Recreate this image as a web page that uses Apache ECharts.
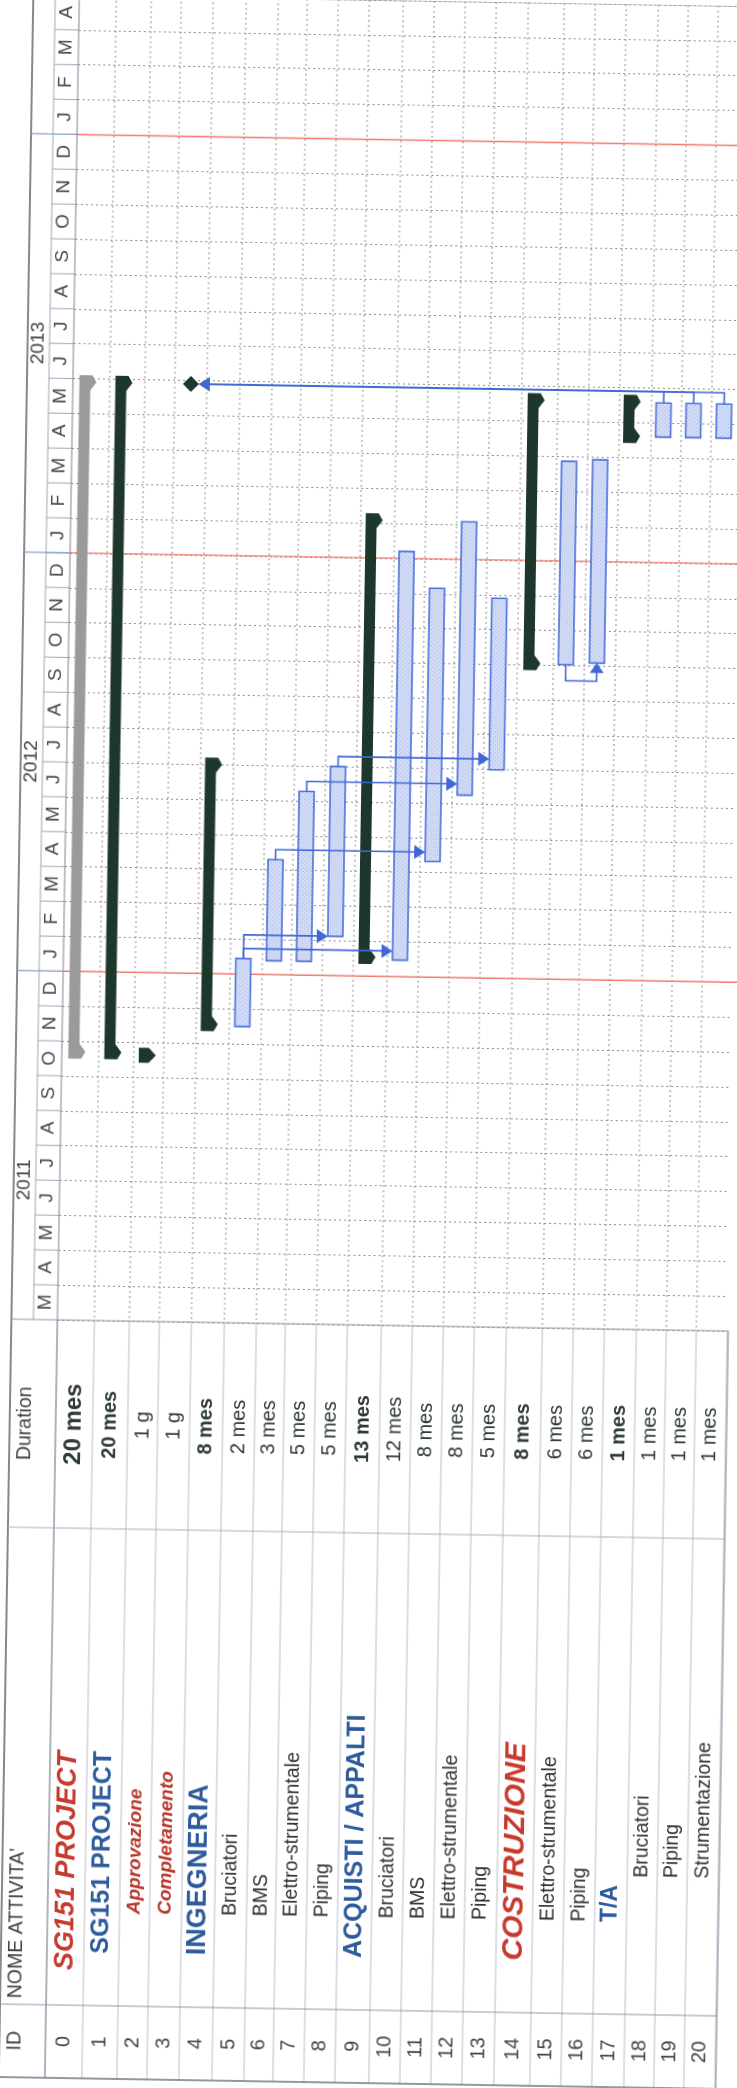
<!DOCTYPE html>
<html>
<head>
<meta charset="utf-8">
<title>SG151 PROJECT – Gantt</title>
<script src="https://cdn.jsdelivr.net/npm/echarts@6/dist/echarts.min.js"></script>
<style>
  html, body { margin: 0; padding: 0; background: #fff; overflow: hidden; }
  #chart { width: 737px; height: 2088px; transform: rotate(0.95deg); }
</style>
</head>
<body>
<div id="chart"></div>
<script>
// ---------------- data ----------------
const taskIds = ['0','1','2','3','4','5','6','7','8','9','10','11','12','13','14','15','16','17','18','19','20'];
const taskNames = ['SG151 PROJECT','SG151 PROJECT','Approvazione','Completamento','INGEGNERIA','Bruciatori','BMS',
  'Elettro-strumentale','Piping','ACQUISTI / APPALTI','Bruciatori','BMS','Elettro-strumentale','Piping',
  'COSTRUZIONE','Elettro-strumentale','Piping','T/A','Bruciatori','Piping','Strumentazione'];
const taskDurations = ['20 mes','20 mes','1 g','1 g','8 mes','2 mes','3 mes','5 mes','5 mes','13 mes','12 mes',
  '8 mes','8 mes','5 mes','8 mes','6 mes','6 mes','1 mes','1 mes','1 mes','1 mes'];
const taskKinds = ['project','summary','summaryDay','milestone','summary','task','task','task','task','summary',
  'task','task','task','task','summary','task','task','summary','task','task','task'];
const outlineLevel = [0,1,2,2,1,2,2,2,2,1,2,2,2,2,1,2,2,2,3,3,3];
// start / finish in months counted from 1 March 2011
const taskStart = [7.5, 7.5, 7.5, 26.9, 8.35, 8.5, 10.4, 10.4, 11.13, 10.35, 10.48, 13.32, 15.24, 15.98,
  18.86, 19.03, 19.09, 25.42, 25.6, 25.6, 25.6];
const taskEnd = [27.1, 27.1, 7.55, 26.9, 16.2, 10.45, 13.3, 15.27, 16.0, 23.28, 22.2, 21.16, 23.08, 20.9,
  26.8, 24.86, 24.92, 26.8, 26.58, 26.58, 26.58];
// dependencies
const linkFrom = [5, 5, 6, 7, 8, 15, 18, 19, 20];
const linkTo   = [8, 10, 11, 12, 13, 16, 3, 3, 3];
const linkType = ['FS','FS','FS','FS','FS','SS','FS','FS','FS'];
// timescale: March 2011 .. April 2014
const monthLetters = ['M','A','M','J','J','A','S','O','N','D',
  'J','F','M','A','M','J','J','A','S','O','N','D',
  'J','F','M','A','M','J','J','A','S','O','N','D',
  'J','F','M','A'];
const yearLabels = ['2011','2012','2013'];
const yearMid = [4, 16, 28];
const yearStart = [10, 22, 34];

// ---------------- layout ----------------
const rowWeights = [37,35,30,32,33,32,29,31,31,34,31,31,31,32,36,31,31,32,30,30,31];
const rowEdge = [0];
rowWeights.forEach(w => rowEdge.push(rowEdge[rowEdge.length - 1] + w));
const FRAME_X = 16, YEAR_X = 38, CHART_X = 62, RIGHT_X = 733;
const CHART_H = 1325;
const DUR_BOTTOM = 1533, NAME_BOTTOM = 2010, TABLE_BOTTOM = 2083;
const DUR_CENTER = (CHART_H + DUR_BOTTOM) / 2;
const ID_CENTER = (NAME_BOTTOM + TABLE_BOTTOM) / 2;
const NAME_START = [1975, 1958, 1918, 1873];
const HEAD_X = 32;
const FONT = '"Liberation Sans", Arial, Helvetica, sans-serif';
const ROT = Math.PI / 2;

const C_SUM = '#1d372c', C_PROJ = '#9a9a9a', C_LINK = '#3f67d6', C_BAR = '#4c70db';
const C_BLUE_TXT = '#2d5b9b', C_RED_TXT = '#c73a2e', C_TXT = '#333';

function nameLook(r) {
  const looks = {
    0: { font: 'italic bold 27px ' + FONT, fill: C_RED_TXT },
    1: { font: 'bold 25px ' + FONT, fill: C_BLUE_TXT },
    2: { font: 'italic bold 19px ' + FONT, fill: '#b7372c' },
    3: { font: 'italic bold 19px ' + FONT, fill: '#b7372c' },
    4: { font: 'bold 27px ' + FONT, fill: C_BLUE_TXT },
    9: { font: 'bold 25px ' + FONT, fill: C_BLUE_TXT },
    14: { font: 'italic bold 30px ' + FONT, fill: C_RED_TXT },
    17: { font: 'bold 23px ' + FONT, fill: C_BLUE_TXT }
  };
  return looks[r] || { font: '19.5px ' + FONT, fill: C_TXT };
}
function durFont(r) {
  if (r === 0) return 'bold 24px ' + FONT;
  return (taskKinds[r] === 'summary' ? 'bold 20px ' : '20px ') + FONT;
}

// hatched fill for task bars
const pat = document.createElement('canvas');
pat.width = 4; pat.height = 4;
(function () {
  const g = pat.getContext('2d');
  g.fillStyle = '#d2dbf6'; g.fillRect(0, 0, 4, 4);
  g.fillStyle = '#a8b8ea'; g.fillRect(0, 0, 1, 1); g.fillRect(2, 2, 1, 1);
})();

// ---------------- helpers ----------------
function rowBounds(api, r) {
  const x0 = api.coord([rowEdge[r], 0])[0];
  const x1 = api.coord([rowEdge[r + 1], 0])[0];
  return { x0, x1, cx: (x0 + x1) / 2 };
}
function ty(api, t) { return api.coord([0, t])[1]; }
function vtext(x, y, text, font, fill, align) {
  return { type: 'text', x, y, rotation: ROT,
    style: { text, font, fill, textAlign: align || 'center', textVerticalAlign: 'middle' } };
}
function line(x1, y1, x2, y2, stroke, width, dash) {
  return { type: 'line', shape: { x1, y1, x2, y2 },
    style: { stroke, lineWidth: width || 1, lineDash: dash || null } };
}
function custom(name, data, renderItem, z) {
  return { type: 'custom', name, data, renderItem, clip: false, silent: true, z: z || 2 };
}
const rowIdx = taskIds.map((_, i) => [i]);

// ---------------- series ----------------
// row separators: dotted in the time area, solid in the table
const rowLines = custom('rows', rowEdge.map((_, i) => [i]), (p, api) => {
  const i = api.value(0);
  const x = api.coord([rowEdge[i], 0])[0];
  const top = ty(api, 38), bot = ty(api, 0);
  const ch = [line(x, bot, x, TABLE_BOTTOM, '#b9bec8', 1)];
  if (i > 0 && i < rowEdge.length - 1) ch.push(line(x, top, x, bot, '#8d8d8d', 1, [2, 3]));
  return { type: 'group', children: ch };
}, 1);

// frame and table column lines
const frame = custom('frame', [[0]], (p, api) => {
  const bot = ty(api, 0), top = ty(api, 38);
  return { type: 'group', children: [
    line(FRAME_X, top - 10, FRAME_X, TABLE_BOTTOM, '#5c6168', 1.5),
    line(YEAR_X, top - 10, YEAR_X, bot, '#9ca7b6', 1),
    line(CHART_X, top - 10, CHART_X, TABLE_BOTTOM, '#8f98a6', 1.2),
    line(RIGHT_X, bot, RIGHT_X, TABLE_BOTTOM, '#8f98a6', 1.2),
    line(FRAME_X, bot, RIGHT_X, bot, '#8f98a6', 1.2),
    line(FRAME_X, DUR_BOTTOM, RIGHT_X, DUR_BOTTOM, '#aab1bc', 1),
    line(FRAME_X, NAME_BOTTOM, RIGHT_X, NAME_BOTTOM, '#8f98a6', 1),
    line(FRAME_X, TABLE_BOTTOM, RIGHT_X, TABLE_BOTTOM, '#6f7680', 1.5),
    line(FRAME_X, top, RIGHT_X + 10, top, '#8f98a6', 1)
  ] };
}, 1);

// month letters of the timescale
const monthCells = custom('months', monthLetters.map((_, i) => [i]), (p, api) => {
  const i = api.value(0);
  const yB = ty(api, i), yT = ty(api, i + 1);
  return { type: 'group', children: [
    line(YEAR_X, yT, CHART_X, yT, '#9ca7b6', 1),
    vtext((YEAR_X + CHART_X) / 2, (yB + yT) / 2, monthLetters[i], '19px ' + FONT, '#4a4a4a')
  ] };
}, 3);

// years of the timescale and the first-of-year markers
const yearCells = custom('years', yearLabels.map((_, i) => [i]), (p, api) => {
  const i = api.value(0);
  const yb = ty(api, yearStart[i]);
  return { type: 'group', children: [
    line(FRAME_X, yb, CHART_X, yb, '#8aa0cc', 1.2),
    line(CHART_X, yb, RIGHT_X + 10, yb, '#f27a6c', 1.4),
    vtext((FRAME_X + YEAR_X) / 2, ty(api, yearMid[i]), yearLabels[i], '19px ' + FONT, '#444')
  ] };
}, 3);

// table: ID, task name, duration
const tableHead = custom('head', [[0]], () => ({ type: 'group', children: [
  vtext(HEAD_X, ID_CENTER, 'ID', '19.5px ' + FONT, '#444'),
  vtext(HEAD_X, NAME_BOTTOM - 6, "NOME ATTIVITA'", '19.5px ' + FONT, '#444', 'left'),
  vtext(HEAD_X, DUR_CENTER, 'Duration', '19.5px ' + FONT, '#444')
] }), 3);

const tableRows = custom('table', rowIdx, (p, api) => {
  const r = api.value(0);
  const b = rowBounds(api, r);
  const look = nameLook(r);
  return { type: 'group', children: [
    vtext(b.cx, ID_CENTER, taskIds[r], '20px ' + FONT, '#444'),
    vtext(b.cx, NAME_START[outlineLevel[r]], taskNames[r], look.font, look.fill, 'left'),
    vtext(b.cx, DUR_CENTER, taskDurations[r], durFont(r), '#2f3b37')
  ] };
}, 3);

// task bars
const taskRows = rowIdx.filter(d => taskKinds[d[0]] === 'task').map(d => [d[0], taskStart[d[0]], taskEnd[d[0]]]);
const taskBars = custom('tasks', taskRows, (p, api) => {
  const r = api.value(0);
  const b = rowBounds(api, r);
  const yS = ty(api, api.value(1)), yE = ty(api, api.value(2));
  return { type: 'rect', shape: { x: b.cx - 10.5, y: yE, width: 15, height: yS - yE },
    style: { fill: { image: pat, repeat: 'repeat' }, stroke: C_BAR, lineWidth: 1.6 } };
}, 5);

// summary bars with end caps
const sumRows = rowIdx.filter(d => ['summary', 'project'].includes(taskKinds[d[0]]))
  .map(d => [d[0], taskStart[d[0]], taskEnd[d[0]]]);
const summaryBars = custom('summaries', sumRows, (p, api) => {
  const r = api.value(0);
  const b = rowBounds(api, r);
  const yB = ty(api, api.value(1)), yT = ty(api, api.value(2));
  const L = b.cx - 12, R = b.cx - 1, P = b.cx + 5;
  const pts = [[L, yT], [R + 2, yT], [P, yT + 7], [R, yT + 15], [R, yB - 15], [P, yB - 7], [R + 2, yB], [L, yB]];
  return { type: 'polygon', shape: { points: pts },
    style: { fill: taskKinds[r] === 'project' ? C_PROJ : C_SUM } };
}, 5);

// one-day summary
const dayRows = rowIdx.filter(d => taskKinds[d[0]] === 'summaryDay').map(d => [d[0], taskStart[d[0]], taskEnd[d[0]]]);
const dayMarks = custom('days', dayRows, (p, api) => {
  const r = api.value(0);
  const b = rowBounds(api, r);
  const yB = ty(api, api.value(1)) + 3, yT = yB - 15;
  const pts = [[b.cx - 10, yB], [b.cx - 10, yT], [b.cx, yT], [b.cx + 7, (yT + yB) / 2], [b.cx, yB]];
  return { type: 'polygon', shape: { points: pts }, style: { fill: C_SUM } };
}, 5);

// milestones
const msRows = rowIdx.filter(d => taskKinds[d[0]] === 'milestone').map(d => [d[0], taskEnd[d[0]]]);
const milestones = custom('milestones', msRows, (p, api) => {
  const r = api.value(0);
  const b = rowBounds(api, r);
  const y = ty(api, api.value(1));
  const s = 8;
  return { type: 'polygon', shape: { points: [[b.cx, y - s], [b.cx + s, y], [b.cx, y + s], [b.cx - s, y]] },
    style: { fill: C_SUM } };
}, 5);

// dependency links
const links = custom('links', linkFrom.map((f, i) => [f, linkTo[i]]), (p, api) => {
  const f = api.value(0), t = api.value(1);
  const type = linkType[p.dataIndex];
  const bf = rowBounds(api, f), bt = rowBounds(api, t);
  const cf = bf.cx - 3, ct = bt.cx - 3;
  const stroke = { stroke: C_LINK, lineWidth: 1.6, fill: null };
  const ch = [];
  if (type === 'SS') {
    const yF = ty(api, taskStart[f]), yT = ty(api, taskStart[t]);
    const yL = Math.max(yF, yT) + 16;
    ch.push({ type: 'polyline', shape: { points: [[cf, yF], [cf, yL], [ct, yL], [ct, yT + 9]] }, style: stroke });
    ch.push({ type: 'polygon', shape: { points: [[ct, yT], [ct - 7, yT + 10], [ct + 7, yT + 10]] }, style: { fill: C_LINK } });
  } else {
    const yE = ty(api, taskEnd[f]);
    const yS = ty(api, taskStart[t]);
    const yA = Math.min(yS, yE - 10);
    if (t > f) {
      const tip = bt.cx - 10.5;
      ch.push({ type: 'polyline', shape: { points: [[cf, yE], [cf, yA], [tip - 9, yA]] }, style: stroke });
      ch.push({ type: 'polygon', shape: { points: [[tip, yA], [tip - 11, yA - 7], [tip - 11, yA + 7]] }, style: { fill: C_LINK } });
    } else {
      const tip = bt.cx + 8;
      ch.push({ type: 'polyline', shape: { points: [[cf, yE], [cf, yA], [tip + 9, yA]] }, style: stroke });
      ch.push({ type: 'polygon', shape: { points: [[tip, yA], [tip + 11, yA - 7], [tip + 11, yA + 7]] }, style: { fill: C_LINK } });
    }
  }
  return { type: 'group', children: ch };
}, 6);

// ---------------- chart ----------------
const chart = echarts.init(document.getElementById('chart'), null, { renderer: 'canvas' });
chart.setOption({
  animation: false,
  backgroundColor: '#ffffff',
  grid: [{ left: CHART_X, top: 0, width: rowEdge[rowEdge.length - 1], height: CHART_H, outerBoundsMode: 'none' }],
  xAxis: [{ type: 'value', min: 0, max: rowEdge[rowEdge.length - 1],
    axisLine: { show: false }, axisTick: { show: false }, axisLabel: { show: false }, splitLine: { show: false } }],
  yAxis: [{ type: 'value', min: 0, max: 38, interval: 1,
    axisLine: { show: false }, axisTick: { show: false }, axisLabel: { show: false },
    splitLine: { show: true, lineStyle: { type: [2, 3], color: '#8d8d8d', width: 1 } } }],
  series: [rowLines, frame, monthCells, yearCells, tableHead, tableRows,
    taskBars, summaryBars, dayMarks, milestones, links]
});
</script>
</body>
</html>
